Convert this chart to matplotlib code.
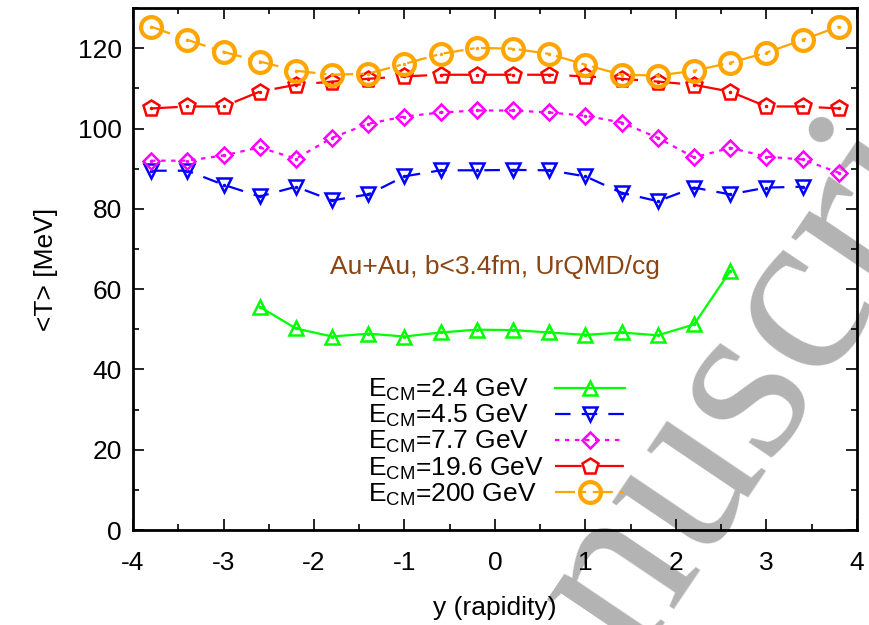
import matplotlib
matplotlib.use('Agg')
import matplotlib.pyplot as plt
from matplotlib.lines import Line2D
from matplotlib.ticker import MultipleLocator

plt.rcParams['font.family'] = ['Liberation Sans', 'DejaVu Sans']
plt.rcParams['mathtext.fontset'] = 'custom'
plt.rcParams['mathtext.rm'] = 'Liberation Sans'
plt.rcParams['mathtext.it'] = 'Liberation Sans'
plt.rcParams['axes.unicode_minus'] = False

# rapidity bins
y_full = [-3.8, -3.4, -3.0, -2.6, -2.2, -1.8, -1.4, -1.0, -0.6, -0.2,
          0.2, 0.6, 1.0, 1.4, 1.8, 2.2, 2.6, 3.0, 3.4, 3.8]
y_24 = y_full[3:17]
y_45 = y_full[:19]

T_24 = [55.6, 50.2, 48.2, 48.9, 48.2, 49.2, 49.9,
        49.8, 49.2, 48.6, 49.2, 48.5, 51.2, 64.5]
T_45 = [89.5, 89.5, 86.0, 83.1, 85.5, 82.1, 83.6, 88.1, 89.6, 89.6,
        89.7, 89.6, 88.1, 84.0, 81.9, 85.3, 83.6, 85.3, 85.5]
T_77 = [92.0, 92.0, 93.3, 95.3, 92.5, 97.7, 101.2, 103.0, 104.0, 104.5,
        104.5, 104.0, 103.2, 101.5, 97.7, 92.8, 95.2, 93.0, 92.3, 89.0]
T_196 = [105.0, 105.5, 105.5, 109.2, 110.9, 111.7, 112.4, 113.0, 113.4, 113.4,
         113.4, 113.4, 113.0, 112.4, 111.7, 110.9, 109.2, 105.5, 105.5, 105.0]
T_200 = [125.4, 122.1, 119.1, 116.7, 114.4, 113.4, 113.7, 116.1, 118.6, 120.1,
         119.9, 118.6, 115.9, 113.4, 113.2, 114.4, 116.4, 118.9, 122.1, 125.4]

labels = ['E$_{\\rm CM}$=2.4 GeV', 'E$_{\\rm CM}$=4.5 GeV', 'E$_{\\rm CM}$=7.7 GeV',
          'E$_{\\rm CM}$=19.6 GeV', 'E$_{\\rm CM}$=200 GeV']

fig = plt.figure(figsize=(8.7, 6.25), dpi=100)
ax = fig.add_axes([0.1529, 0.152, 0.832, 0.835])
ax.patch.set_facecolor('none')

# watermark behind the axes (baseline starts below the figure)
fig.text(0.5224, -0.478, 'Manuscript', fontsize=172, color='#b3b3b3',
         family='Liberation Serif', rotation=56, rotation_mode='anchor',
         ha='left', va='baseline', zorder=-5)

series = [
    (y_24, T_24, '#00ff00', '^', 10, 1.8, None),
    (y_45, T_45, '#0000ff', 'v', 10, 1.8, (7, 5)),
    (y_full, T_77, '#ff00ff', 'D', 8, 1.8, (2, 2.5)),
    (y_full, T_196, '#ff0000', 'p', 12, 1.8, (12, 7)),
    (y_full, T_200, '#ffa500', 'o', 15, 3.0, (9, 3, 2, 3)),
]

handles = []
for (xs, ys, c, m, ms, mew, dash), lab in zip(series, labels):
    line, = ax.plot(xs, ys, color=c, lw=1.6, marker=m, ms=ms, mfc='none',
                    mec=c, mew=mew, label=lab)
    if dash is not None:
        line.set_dashes(dash)
    ax.plot(xs, ys, ls='none', marker='o', ms=1.5, color=c)
    handles.append(line)

ax.text(0.0, 65.5, 'Au+Au, b<3.4fm, UrQMD/cg', color='#8b4513',
        fontsize=19, ha='center', va='center')

# gnuplot-style key: left aligned labels, samples on the right
leg_y = 0.2935
leg_b = ax.legend(handles=handles, labels=labels, loc='upper right',
                  bbox_to_anchor=(0.68, leg_y), frameon=False, markerfirst=False,
                  numpoints=1, fontsize=19, handlelength=2.65, handletextpad=0.5,
                  labelspacing=0.0, borderpad=0, borderaxespad=0)
for t in leg_b.get_texts():
    t.set_visible(False)
ax.add_artist(leg_b)
blank = [Line2D([], [], ls='none') for _ in labels]
leg_a = ax.legend(handles=blank, labels=labels, loc='upper left',
                  bbox_to_anchor=(0.3246, leg_y), frameon=False,
                  fontsize=19, handlelength=0, handletextpad=0,
                  labelspacing=0.0, borderpad=0, borderaxespad=0)

ax.set_xlim(-4, 4)
ax.set_ylim(0, 130)
ax.xaxis.set_major_locator(MultipleLocator(1))
ax.xaxis.set_minor_locator(MultipleLocator(0.5))
ax.yaxis.set_major_locator(MultipleLocator(20))
ax.yaxis.set_minor_locator(MultipleLocator(10))
ax.tick_params(which='both', direction='in', top=True, right=True,
               labelsize=19, width=1.2)
ax.tick_params(axis='x', which='major', pad=15)
ax.tick_params(axis='y', which='major', pad=8)
ax.tick_params(which='major', length=8)
ax.tick_params(which='minor', length=4)
for s in ax.spines.values():
    s.set_linewidth(2)

ax.set_xlabel('y (rapidity)', fontsize=19, labelpad=15)
ax.set_ylabel('<T> [MeV]', fontsize=19, labelpad=14)

fig.savefig('out.png', dpi=100)
